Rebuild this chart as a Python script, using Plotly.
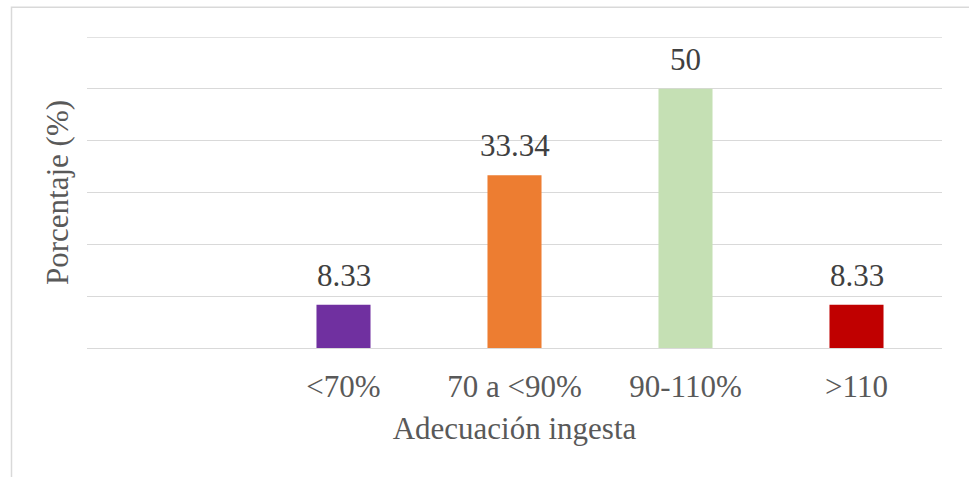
import plotly.graph_objects as go

# Intake adequacy categories (first slot intentionally left empty)
categories = ["", "<70%", "70 a <90%", "90-110%", ">110"]
values = [None, 8.33, 33.34, 50, 8.33]
labels = ["", "8.33", "33.34", "50", "8.33"]
colors = ["#FFFFFF", "#7030A0", "#ED7D31", "#C5E0B4", "#C00000"]

positions = list(range(len(categories)))
bar_x = [p for p, v in zip(positions, values) if v is not None]
bar_y = [v for v in values if v is not None]
bar_c = [c for c, v in zip(colors, values) if v is not None]
bar_t = [t for t, v in zip(labels, values) if v is not None]

font_family = "Liberation Serif, Times New Roman, serif"
text_grey = "#595959"
grid_grey = "#D9D9D9"

fig = go.Figure()
fig.add_trace(go.Bar(
    x=bar_x,
    y=bar_y,
    marker=dict(color=bar_c, line=dict(width=0)),
    width=0.316,
    hoverinfo="skip",
    showlegend=False,
))

# value labels above each bar
for x, y, t in zip(bar_x, bar_y, bar_t):
    fig.add_annotation(
        x=x, y=y, text=t, xref="x", yref="y",
        showarrow=False, yanchor="bottom", yshift=10,
        font=dict(family=font_family, size=31, color="#404040"),
    )

# outer chart frame
fig.add_shape(
    type="rect", xref="paper", yref="paper",
    x0=-0.0883, x1=1.04, y0=-0.45, y1=1.0953,
    line=dict(color=grid_grey, width=1.5), fillcolor="rgba(0,0,0,0)",
    layer="below",
)

# top gridline drawn explicitly at 60
fig.add_shape(
    type="line", xref="paper", yref="y",
    x0=0, x1=1, y0=60, y1=60,
    line=dict(color=grid_grey, width=1.3),
    layer="below",
)

fig.update_layout(
    width=969, height=477,
    margin=dict(l=87, r=27, t=37, b=129),
    paper_bgcolor="white",
    plot_bgcolor="white",
    font=dict(family=font_family, size=31, color=text_grey),
    xaxis=dict(
        range=[-0.5, 4.5],
        tickmode="array",
        tickvals=positions[1:],
        ticktext=categories[1:],
        showgrid=False,
        zeroline=False,
        showline=False,
        ticks="",
        ticklabelstandoff=17,
        tickfont=dict(family=font_family, size=31, color=text_grey),
        title=dict(text="Adecuación ingesta", standoff=14,
                   font=dict(family=font_family, size=31, color=text_grey)),
    ),
    yaxis=dict(
        range=[0, 60],
        tickmode="array",
        tickvals=[0, 10, 20, 30, 40, 50],
        showticklabels=False,
        showgrid=True,
        gridcolor=grid_grey,
        gridwidth=1.3,
        zeroline=True,
        zerolinecolor=grid_grey,
        zerolinewidth=1.3,
        showline=False,
        ticks="",
        title=dict(text="Porcentaje (%)", standoff=8,
                   font=dict(family=font_family, size=31, color=text_grey)),
    ),
)

fig.write_html("out.html")
